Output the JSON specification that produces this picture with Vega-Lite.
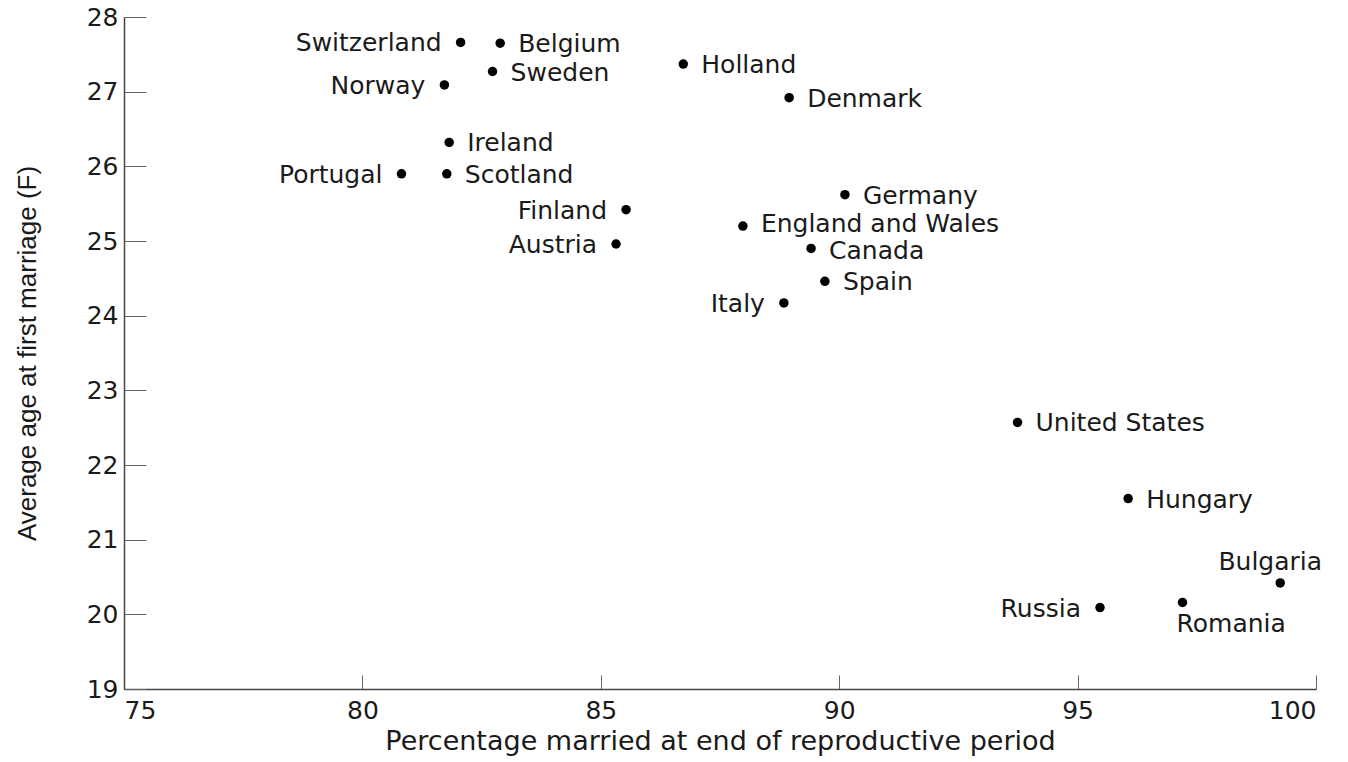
{
  "$schema": "https://vega.github.io/schema/vega-lite/v6.json",
  "width": 1192,
  "height": 672,
  "autosize": {"type": "none"},
  "padding": {"left": 124, "top": 17, "right": 32, "bottom": 73},
  "background": "white",
  "config": {
    "view": {"stroke": null},
    "axis": {
      "grid": false,
      "domainColor": "#444",
      "domainWidth": 1.5,
      "tickColor": "#666",
      "tickWidth": 1,
      "labelFont": "DejaVu Sans",
      "labelFontSize": 25,
      "labelColor": "#1a1a1a",
      "titleColor": "#1a1a1a",
      "titleFontWeight": "normal"
    }
  },
  "data": {
    "values": [
      {"country": "Switzerland", "pct": 82.06, "age": 27.66},
      {"country": "Belgium", "pct": 82.89, "age": 27.65},
      {"country": "Sweden", "pct": 82.73, "age": 27.27},
      {"country": "Norway", "pct": 81.72, "age": 27.09},
      {"country": "Holland", "pct": 86.73, "age": 27.37},
      {"country": "Denmark", "pct": 88.95, "age": 26.92},
      {"country": "Ireland", "pct": 81.82, "age": 26.32},
      {"country": "Portugal", "pct": 80.82, "age": 25.9},
      {"country": "Scotland", "pct": 81.77, "age": 25.9},
      {"country": "Germany", "pct": 90.12, "age": 25.62},
      {"country": "Finland", "pct": 85.53, "age": 25.42},
      {"country": "England and Wales", "pct": 87.98, "age": 25.2},
      {"country": "Austria", "pct": 85.32, "age": 24.96},
      {"country": "Canada", "pct": 89.41, "age": 24.9},
      {"country": "Spain", "pct": 89.7, "age": 24.46},
      {"country": "Italy", "pct": 88.84, "age": 24.17},
      {"country": "United States", "pct": 93.74, "age": 22.57},
      {"country": "Hungary", "pct": 96.06, "age": 21.55},
      {"country": "Bulgaria", "pct": 99.25, "age": 20.42},
      {"country": "Romania", "pct": 97.2, "age": 20.16},
      {"country": "Russia", "pct": 95.47, "age": 20.09}
    ]
  },
  "encoding": {
    "x": {
      "field": "pct",
      "type": "quantitative",
      "scale": {"domain": [75, 100], "nice": false, "zero": false},
      "axis": {
        "values": [75, 80, 85, 90, 95, 100],
        "tickSize": -14,
        "labelPadding": 23,
        "title": "Percentage married at end of reproductive period",
        "titleFont": "DejaVu Sans",
        "titleFontSize": 27,
        "titlePadding": 5
      }
    },
    "y": {
      "field": "age",
      "type": "quantitative",
      "scale": {"domain": [19, 28], "nice": false, "zero": false},
      "axis": {
        "values": [19, 20, 21, 22, 23, 24, 25, 26, 27, 28],
        "tickSize": -22,
        "labelPadding": 28,
        "title": "Average age at first marriage (F)",
        "titleFont": "Liberation Sans",
        "titleFontSize": 26,
        "titlePadding": 46
      }
    }
  },
  "layer": [
    {
      "mark": {"type": "circle", "size": 90, "color": "black", "opacity": 1}
    },
    {
      "transform": [{"filter": {"not": {"field": "country", "oneOf": ["Switzerland", "Norway", "Portugal", "Finland", "Austria", "Italy", "Russia", "Bulgaria", "Romania", "England and Wales", "Canada"]}}}],
      "mark": {"type": "text", "align": "left", "baseline": "middle", "dx": 18, "dy": 1, "font": "DejaVu Sans", "fontSize": 25, "color": "#1a1a1a"},
      "encoding": {"text": {"field": "country"}}
    },
    {
      "transform": [{"filter": {"field": "country", "equal": "England and Wales"}}],
      "mark": {"type": "text", "align": "left", "baseline": "middle", "dx": 18, "dy": -2, "font": "DejaVu Sans", "fontSize": 25, "color": "#1a1a1a"},
      "encoding": {"text": {"field": "country"}}
    },
    {
      "transform": [{"filter": {"field": "country", "equal": "Canada"}}],
      "mark": {"type": "text", "align": "left", "baseline": "middle", "dx": 18, "dy": 3, "font": "DejaVu Sans", "fontSize": 25, "color": "#1a1a1a"},
      "encoding": {"text": {"field": "country"}}
    },
    {
      "transform": [{"filter": {"field": "country", "oneOf": ["Switzerland", "Norway", "Portugal", "Finland", "Austria", "Italy", "Russia"]}}],
      "mark": {"type": "text", "align": "right", "baseline": "middle", "dx": -19, "dy": 1, "font": "DejaVu Sans", "fontSize": 25, "color": "#1a1a1a"},
      "encoding": {"text": {"field": "country"}}
    },
    {
      "transform": [{"filter": {"field": "country", "equal": "Bulgaria"}}],
      "mark": {"type": "text", "align": "center", "baseline": "middle", "dx": -10, "dy": -21, "font": "DejaVu Sans", "fontSize": 25, "color": "#1a1a1a"},
      "encoding": {"text": {"field": "country"}}
    },
    {
      "transform": [{"filter": {"field": "country", "equal": "Romania"}}],
      "mark": {"type": "text", "align": "left", "baseline": "middle", "dx": -6, "dy": 22, "font": "DejaVu Sans", "fontSize": 25, "color": "#1a1a1a"},
      "encoding": {"text": {"field": "country"}}
    }
  ]
}
